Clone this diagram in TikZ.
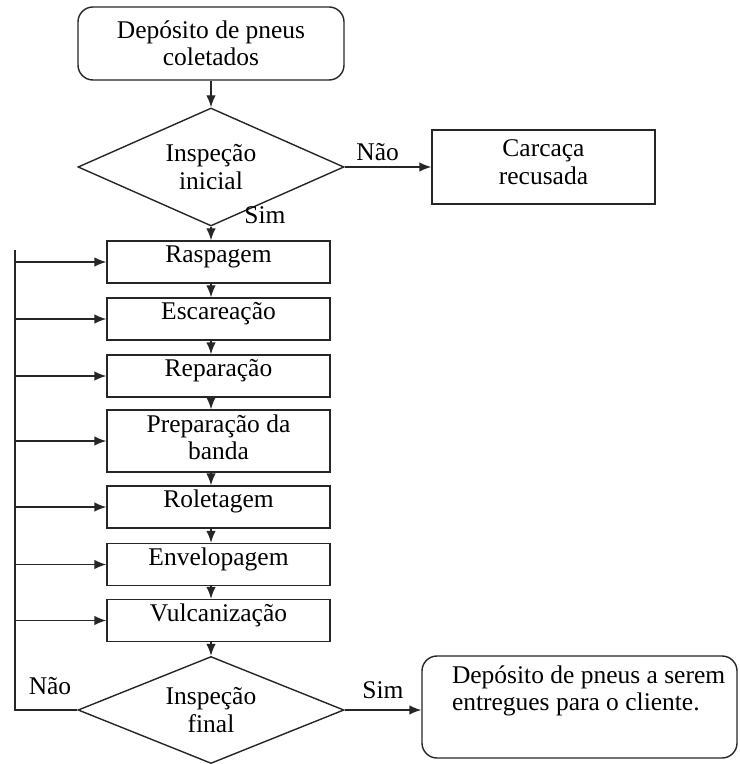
\documentclass[tikz,border=0pt]{standalone}
\usepackage{fontspec}
\setmainfont{Liberation Serif}
\usetikzlibrary{shapes.geometric, arrows.meta}

\begin{document}
\begin{tikzpicture}[
    >={Latex[length=0.24cm, width=0.19cm]}, font=\fontsize{14.5}{15.5}\selectfont, line width=0.8pt,
    box/.style={draw=black!85, minimum width=4.46cm, minimum height=0.84cm,
      align=center, inner ysep=0pt, text depth=0.33cm},
    endbox/.style={draw=black!85, rounded corners=0.3cm, align=center},
    decision/.style={draw=black!85, diamond, aspect=2.25, inner sep=0pt,
      minimum width=5.32cm, align=center},
    arr/.style={->, draw=black!85},
    lbl/.style={inner sep=1pt},
  ]
  \useasboundingbox (0,0) rectangle (14.78,-15.28);

  % start and first check
  \node[endbox, minimum width=5.32cm, minimum height=1.46cm] (depo) at (4.22,-0.87) {Depósito de pneus\\coletados};
  \node[decision, minimum height=2.36cm] (dec1) at (4.22,-3.34) {Inspeção\\inicial};
  \node[box, minimum height=1.48cm, text depth=0.2cm] (carc) at (10.87,-3.34) {Carcaça\\recusada};

  \draw[arr] (depo) -- (dec1);
  \draw[arr] (dec1.east) -- node[lbl, above, pos=0.38, yshift=2pt] {Não} (carc.west);
  \node[lbl] (sim1) at (5.30,-4.30) {Sim};

  % process steps
  \node[box] (rasp) at (4.37,-5.24) {Raspagem};
  \node[box] (esca) at (4.37,-6.38) {Escareação};
  \node[box] (repa) at (4.37,-7.52) {Reparação};
  \node[box, minimum height=1.24cm, text depth=0.15cm] (prep) at (4.37,-8.82) {Preparação da\\banda};
  \node[box] (role) at (4.37,-10.14) {Roletagem};
  \node[box] (enve) at (4.37,-11.29) {Envelopagem};
  \node[box] (vulc) at (4.37,-12.41) {Vulcanização};

  \draw[arr] (dec1.south) -- (rasp.north -| dec1);
  \draw[arr] (rasp.south -| dec1) -- (esca.north -| dec1);
  \draw[arr] (esca.south -| dec1) -- (repa.north -| dec1);
  \draw[arr] (repa.south -| dec1) -- (prep.north -| dec1);
  \draw[arr] (prep.south -| dec1) -- (role.north -| dec1);
  \draw[arr] (role.south -| dec1) -- (enve.north -| dec1);
  \draw[arr] (enve.south -| dec1) -- (vulc.north -| dec1);

  % final check
  \node[decision, minimum height=2.14cm] (dec2) at (4.22,-14.20) {Inspeção\\final};
  \node[endbox, minimum width=6.30cm, minimum height=2.04cm] (entrega) at (11.59,-14.14) {};
  \node[inner sep=0pt, anchor=north west, align=left] (entregaTxt)
    at ([xshift=0.6cm, yshift=-0.2cm]entrega.north west) {Depósito de pneus a serem\\entregues para o cliente.};

  \draw[arr] (vulc.south -| dec1) -- (dec2.north);
  \draw[arr] (dec2.east) -- node[lbl, above, pos=0.5, yshift=5pt] {Sim} (dec2.east -| entrega.west);

  % Loop: back to each step
  \coordinate (loopTop) at (0.30,-5.0);
  \draw[draw=black!85] (dec2.west) -| (loopTop);
  \node[lbl] (nao2) at (1.0,-13.72) {Não};
  \draw[arr] (loopTop |- rasp.west) -- (rasp.west);
  \draw[arr] (loopTop |- esca.west) -- (esca.west);
  \draw[arr] (loopTop |- repa.west) -- (repa.west);
  \draw[arr] (loopTop |- prep.west) -- (prep.west);
  \draw[arr] (loopTop |- role.west) -- (role.west);
  \draw[arr] (loopTop |- enve.west) -- (enve.west);
  \draw[arr] (loopTop |- vulc.west) -- (vulc.west);

\end{tikzpicture}
\end{document}
